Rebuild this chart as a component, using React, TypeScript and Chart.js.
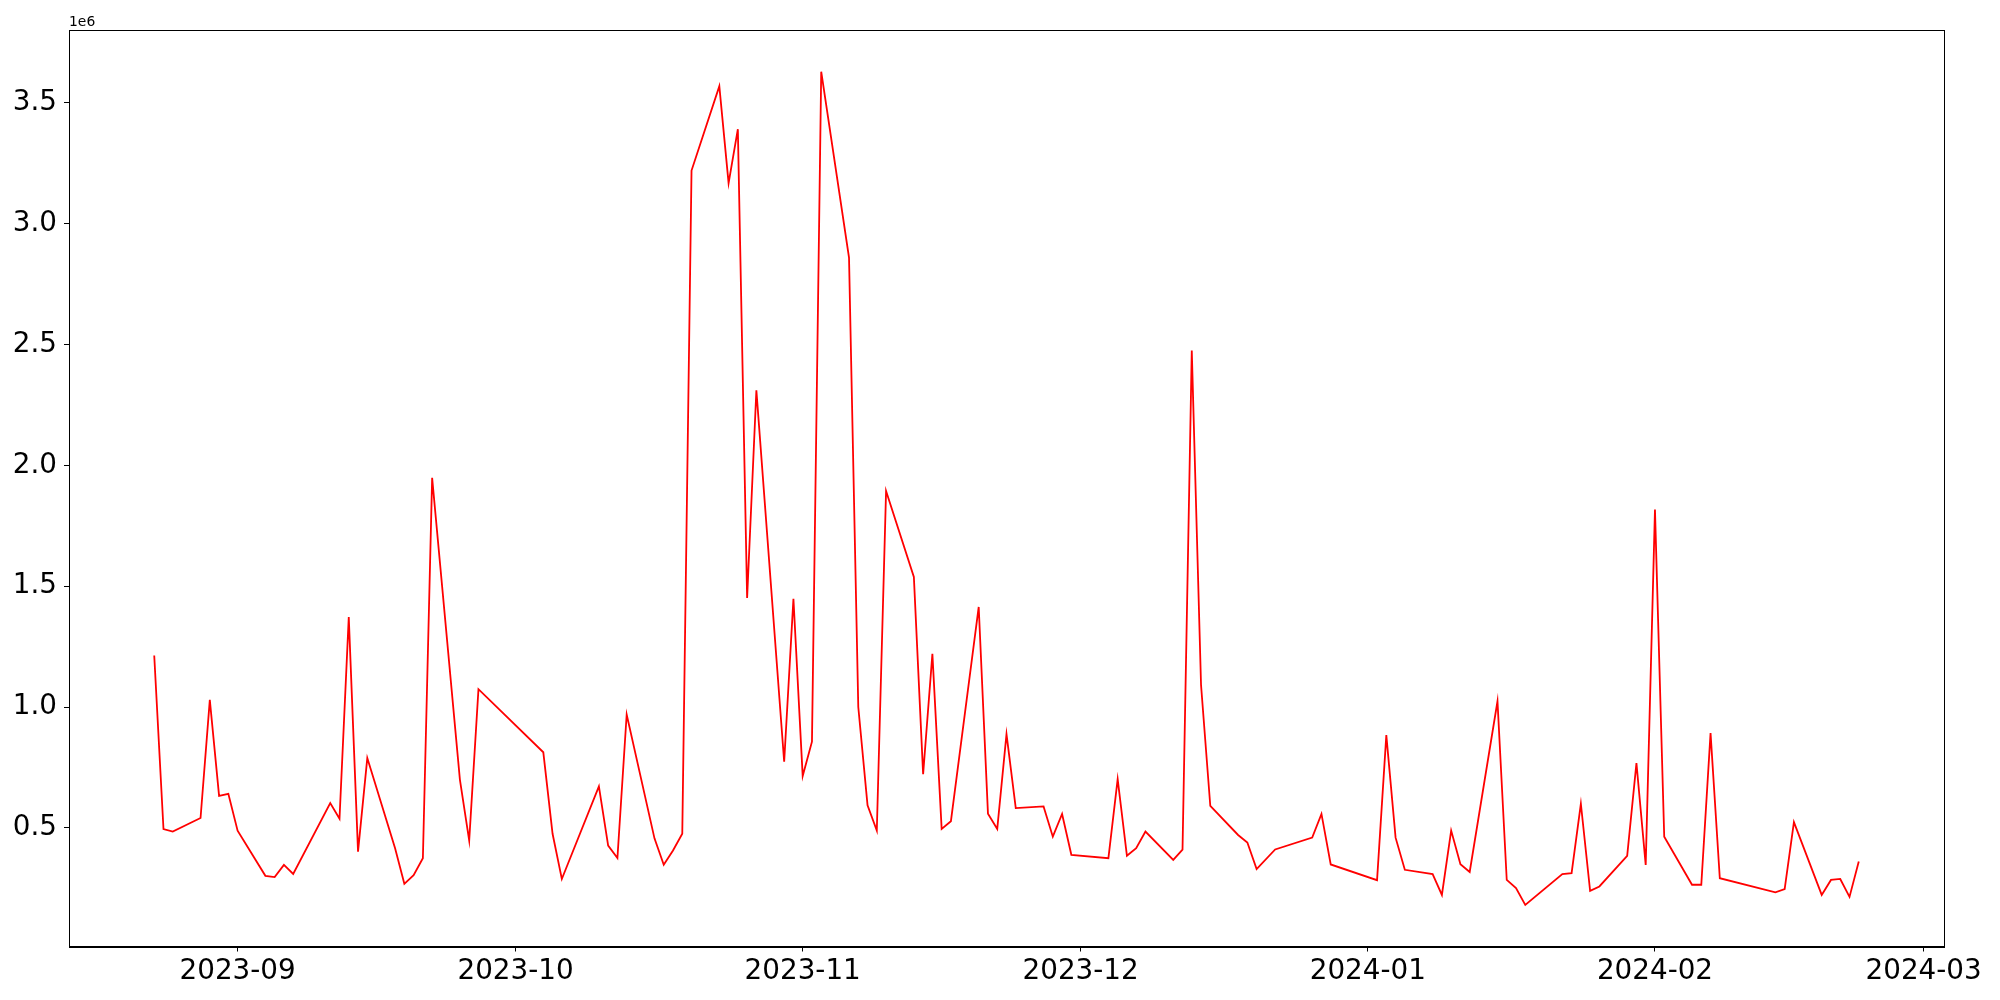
import React, { useEffect, useRef } from "react";
import { Chart, registerables } from "chart.js";

Chart.register(...registerables);

const dates: string[] = [
  "2023-08-23", "2023-08-24", "2023-08-25", "2023-08-28", "2023-08-29", "2023-08-30", "2023-08-31",
  "2023-09-01", "2023-09-04", "2023-09-05", "2023-09-06", "2023-09-07", "2023-09-11", "2023-09-12",
  "2023-09-13", "2023-09-14", "2023-09-15", "2023-09-18", "2023-09-19", "2023-09-20", "2023-09-21",
  "2023-09-22", "2023-09-25", "2023-09-26", "2023-09-27", "2023-10-04", "2023-10-05", "2023-10-06",
  "2023-10-10", "2023-10-11", "2023-10-12", "2023-10-13", "2023-10-16", "2023-10-17", "2023-10-18",
  "2023-10-19", "2023-10-20", "2023-10-23", "2023-10-24", "2023-10-25", "2023-10-26", "2023-10-27",
  "2023-10-30", "2023-10-31", "2023-11-01", "2023-11-02", "2023-11-03", "2023-11-06", "2023-11-07",
  "2023-11-08", "2023-11-09", "2023-11-10", "2023-11-13", "2023-11-14", "2023-11-15", "2023-11-16",
  "2023-11-17", "2023-11-20", "2023-11-21", "2023-11-22", "2023-11-23", "2023-11-24", "2023-11-27",
  "2023-11-28", "2023-11-29", "2023-11-30", "2023-12-04", "2023-12-05", "2023-12-06", "2023-12-07",
  "2023-12-08", "2023-12-11", "2023-12-12", "2023-12-13", "2023-12-14", "2023-12-15", "2023-12-18",
  "2023-12-19", "2023-12-20", "2023-12-22", "2023-12-26", "2023-12-27", "2023-12-28", "2024-01-02",
  "2024-01-03", "2024-01-04", "2024-01-05", "2024-01-08", "2024-01-09", "2024-01-10", "2024-01-11",
  "2024-01-12", "2024-01-15", "2024-01-16", "2024-01-17", "2024-01-18", "2024-01-22", "2024-01-23",
  "2024-01-24", "2024-01-25", "2024-01-26", "2024-01-29", "2024-01-30", "2024-01-31", "2024-02-01",
  "2024-02-02", "2024-02-05", "2024-02-06", "2024-02-07", "2024-02-08", "2024-02-14", "2024-02-15",
  "2024-02-16", "2024-02-19", "2024-02-20", "2024-02-21", "2024-02-22", "2024-02-23",
];

const values: number[] = [
  1213000, 495000, 485000, 541000, 1030000, 633000, 641000,
  489000, 302000, 297000, 347000, 310000, 603000, 538000,
  1372000, 402000, 789000, 416000, 269000, 305000, 375000,
  1948000, 699000, 448000, 1074000, 813000, 476000, 289000,
  672000, 427000, 376000, 969000, 457000, 348000, 407000,
  476000, 3219000, 3568000, 3167000, 3390000, 1451000, 2310000,
  774000, 1448000, 715000, 857000, 3628000, 2859000, 1000000,
  594000, 489000, 1894000, 1538000, 722000, 1220000, 496000,
  528000, 1414000, 559000, 496000, 888000, 582000, 589000,
  464000, 558000, 389000, 375000, 702000, 385000, 416000,
  485000, 368000, 410000, 2475000, 1091000, 591000, 471000,
  440000, 330000, 411000, 460000, 558000, 349000, 284000,
  884000, 460000, 327000, 309000, 223000, 489000, 350000,
  318000, 1024000, 285000, 251000, 182000, 309000, 313000,
  600000, 240000, 258000, 385000, 768000, 347000, 1817000,
  464000, 265000, 265000, 892000, 292000, 234000, 247000,
  524000, 223000, 285000, 289000, 215000, 361000,
];

const xTickLabels: string[] = ["2023-09", "2023-10", "2023-11", "2023-12", "2024-01", "2024-02", "2024-03"];
const yTickValues: number[] = [500000, 1000000, 1500000, 2000000, 2500000, 3000000, 3500000];

const DAY = 86400000;
const toDay = (s: string): number => {
  const [y, m, d] = s.split("-").map(Number);
  return Date.UTC(y, m - 1, d || 1) / DAY;
};

export default function App() {
  const ref = useRef<HTMLCanvasElement>(null);

  useEffect(() => {
    document.body.style.margin = "0";
    document.body.style.overflow = "hidden";
    const canvas = ref.current;
    if (!canvas) return;

    const xs = dates.map(toDay);
    const points = xs.map((x, i) => ({ x, y: values[i] }));
    const xMin0 = Math.min(...xs);
    const xMax0 = Math.max(...xs);
    const xPad = (xMax0 - xMin0) * 0.05;
    const yMin0 = Math.min(...values);
    const yMax0 = Math.max(...values);
    const yPad = (yMax0 - yMin0) * 0.05;

    const fontFamily = '"DejaVu Sans", sans-serif';

    const framePlugin = {
      id: "frame",
      afterDraw(chart: any) {
        const { ctx, chartArea: a } = chart;
        ctx.save();
        ctx.strokeStyle = "#000";
        ctx.lineWidth = 1;
        ctx.strokeRect(Math.round(a.left) + 0.5, Math.round(a.top) + 0.5, Math.round(a.right - a.left), Math.round(a.bottom - a.top));
        ctx.fillStyle = "#000";
        ctx.font = `13.9px ${fontFamily}`;
        ctx.textAlign = "left";
        ctx.textBaseline = "alphabetic";
        ctx.fillText("1e6", a.left, a.top - 4.5);
        ctx.restore();
      },
    };

    const chart = new Chart(canvas, {
      type: "line",
      data: {
        datasets: [
          {
            data: points,
            borderColor: "#ff0000",
            borderWidth: 1.8,
            pointRadius: 0,
            fill: false,
            tension: 0,
          },
        ],
      },
      options: {
        responsive: false,
        animation: false,
        events: [],
        layout: { padding: { top: 30, right: 56, left: 0, bottom: 0 } },
        plugins: { legend: { display: false }, tooltip: { enabled: false } },
        scales: {
          x: {
            type: "linear",
            min: xMin0 - xPad,
            max: xMax0 + xPad,
            afterBuildTicks: (axis: any) => {
              axis.ticks = xTickLabels.map((l) => ({ value: toDay(l) }));
            },
            afterFit: (axis: any) => {
              axis.height = 53.5;
            },
            ticks: {
              callback: (_v: any, i: number) => xTickLabels[i],
              font: { family: fontFamily, size: 27.8 },
              color: "#000",
              padding: 4,
              maxRotation: 0,
              autoSkip: false,
            },
            grid: {
              display: true,
              drawOnChartArea: false,
              drawTicks: true,
              tickLength: 5,
              color: "#000",
              lineWidth: 1,
            },
            border: { display: true, color: "#000", width: 1 },
          },
          y: {
            type: "linear",
            min: yMin0 - yPad,
            max: yMax0 + yPad,
            afterBuildTicks: (axis: any) => {
              axis.ticks = yTickValues.map((v) => ({ value: v }));
            },
            afterFit: (axis: any) => {
              axis.width = 69;
            },
            ticks: {
              callback: (v: any) => (Number(v) / 1e6).toFixed(1),
              font: { family: fontFamily, size: 27.8 },
              color: "#000",
              padding: 7,
              autoSkip: false,
            },
            grid: {
              display: true,
              drawOnChartArea: false,
              drawTicks: true,
              tickLength: 5,
              color: "#000",
              lineWidth: 1,
            },
            border: { display: true, color: "#000", width: 1 },
          },
        },
      },
      plugins: [framePlugin],
    } as any);

    return () => chart.destroy();
  }, []);

  return (
    <canvas
      ref={ref}
      width={2000}
      height={1000}
      style={{ position: "absolute", left: 0, top: 0, width: 2000, height: 1000, display: "block" }}
    />
  );
}
